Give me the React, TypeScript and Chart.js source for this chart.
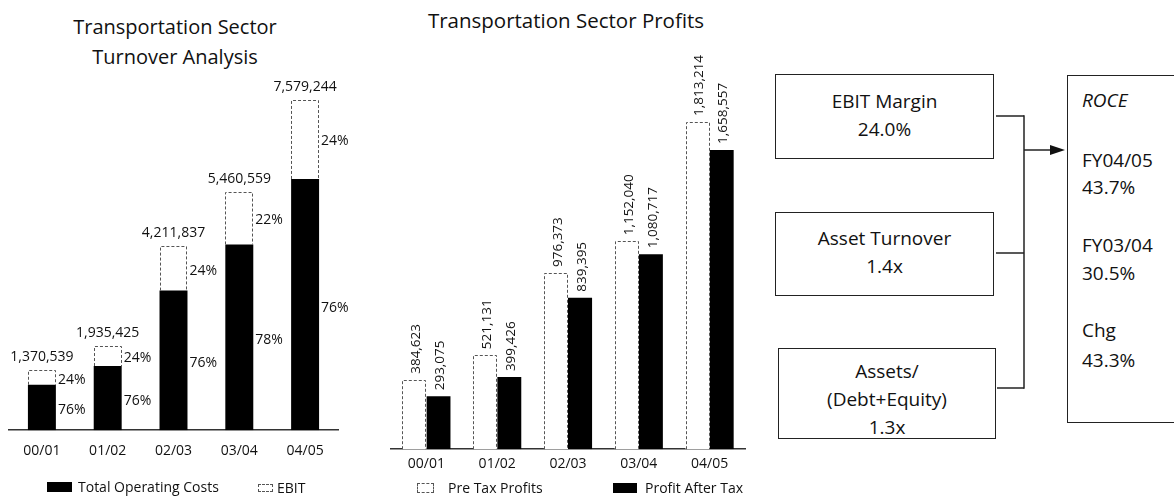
import React, { useEffect, useRef } from "react";
import { Chart, registerables } from "chart.js";

Chart.register(...registerables);

const FONT = "'Open Sans', 'Noto Sans', 'DejaVu Sans', sans-serif";

// ---- Data ----
const years = ["00/01", "01/02", "02/03", "03/04", "04/05"];
const turnoverTotals = [1370539, 1935425, 4211837, 5460559, 7579244];
const operatingCosts = [1041610, 1470923, 3200996, 4259236, 5760225];
const ebitValues = [328929, 464502, 1010841, 1201323, 1819019];
const costShareLabels = ["76%", "76%", "76%", "78%", "76%"];
const ebitShareLabels = ["24%", "24%", "24%", "22%", "24%"];
const preTaxProfits = [384623, 521131, 976373, 1152040, 1813214];
const profitAfterTax = [293075, 399426, 839395, 1080717, 1658557];
const driverNames = [["EBIT Margin"], ["Asset Turnover"], ["Assets/", "(Debt+Equity)"]];
const driverValues = ["24.0%", "1.4x", "1.3x"];
const roceTitle = "ROCE";
const roceLabels = ["FY04/05", "FY03/04", "Chg"];
const roceValues = ["43.7%", "30.5%", "43.3%"];

const fmt = (v: number) => v.toLocaleString("en-US");

function strokeDashedBars(chart: any, dsIndex: number) {
  const ctx = chart.ctx;
  const meta = chart.getDatasetMeta(dsIndex);
  ctx.save();
  ctx.strokeStyle = "#555";
  ctx.lineWidth = 1;
  ctx.setLineDash([3, 2]);
  meta.data.forEach((el: any) => {
    const p = el.getProps(["x", "y", "base", "width"], true);
    const l = Math.round(p.x - p.width / 2) + 0.5;
    const r = Math.round(p.x + p.width / 2) - 0.5;
    const t = Math.round(p.y) + 0.5;
    ctx.beginPath();
    ctx.moveTo(l, p.base);
    ctx.lineTo(l, t);
    ctx.lineTo(r, t);
    ctx.lineTo(r, p.base);
    ctx.stroke();
  });
  ctx.restore();
}

const leftLabels = {
  id: "leftLabels",
  afterDatasetsDraw(chart: any) {
    strokeDashedBars(chart, 1);
    const ctx = chart.ctx;
    const m0 = chart.getDatasetMeta(0);
    const m1 = chart.getDatasetMeta(1);
    ctx.save();
    ctx.font = `14px ${FONT}`;
    ctx.fillStyle = "#111";
    ctx.textBaseline = "middle";
    m1.data.forEach((el: any, i: number) => {
      const p = el.getProps(["x", "y", "base", "width"], true);
      ctx.textAlign = "center";
      ctx.fillText(fmt(turnoverTotals[i]), p.x, p.y - 13);
      ctx.textAlign = "left";
      ctx.fillText(ebitShareLabels[i], p.x + p.width / 2 + 2, (p.y + p.base) / 2 + 2);
      const q = m0.data[i].getProps(["x", "y", "base", "width"], true);
      ctx.fillText(costShareLabels[i], q.x + q.width / 2 + 2, (q.y + q.base) / 2 + 3);
    });
    ctx.restore();
  },
};

const rightLabels = {
  id: "rightLabels",
  afterDatasetsDraw(chart: any) {
    strokeDashedBars(chart, 0);
    const ctx = chart.ctx;
    ctx.save();
    ctx.font = `13.5px ${FONT}`;
    ctx.fillStyle = "#111";
    ctx.textBaseline = "middle";
    ctx.textAlign = "left";
    const series = [preTaxProfits, profitAfterTax];
    [0, 1].forEach((d) => {
      chart.getDatasetMeta(d).data.forEach((el: any, i: number) => {
        const p = el.getProps(["x", "y"], true);
        ctx.save();
        ctx.translate(p.x + 2, p.y - 6);
        ctx.rotate(-Math.PI / 2);
        ctx.fillText(fmt(series[d][i]), 0, 0);
        ctx.restore();
      });
    });
    ctx.restore();
  },
};

function useChart(ref: React.RefObject<HTMLCanvasElement>, make: () => any) {
  useEffect(() => {
    if (!ref.current) return;
    const chart = new Chart(ref.current, make());
    return () => chart.destroy();
  }, []);
}

const xAxis = (padding: number) => ({
  grid: { display: false, drawTicks: false },
  border: { display: true, color: "#333", width: 1.5 },
  ticks: { color: "#111", font: { family: FONT, size: 14 }, padding },
});

function LeftChart() {
  const ref = useRef<HTMLCanvasElement>(null);
  useChart(ref, () => ({
    type: "bar",
    data: {
      labels: years,
      datasets: [
        { label: "Total Operating Costs", data: operatingCosts, backgroundColor: "#000", stack: "s", barPercentage: 0.425, categoryPercentage: 1 },
        { label: "EBIT", data: ebitValues, backgroundColor: "#fff", stack: "s", barPercentage: 0.425, categoryPercentage: 1 },
      ],
    },
    options: {
      animation: false,
      responsive: false,
      maintainAspectRatio: false,
      layout: { padding: { top: 90, left: 9, right: 12, bottom: 7 } },
      plugins: { legend: { display: false }, title: { display: false }, tooltip: { enabled: false } },
      scales: {
        x: { stacked: true, ...xAxis(12) },
        y: { stacked: true, display: false, min: 0, max: 7800000 },
      },
    },
    plugins: [leftLabels],
  }));
  return <canvas ref={ref} width={350} height={478} style={{ position: "absolute", left: 0, top: 0, width: 350, height: 478 }} />;
}

function RightChart() {
  const ref = useRef<HTMLCanvasElement>(null);
  useChart(ref, () => ({
    type: "bar",
    data: {
      labels: years,
      datasets: [
        { label: "Pre Tax Profits", data: preTaxProfits, backgroundColor: "#fff", barPercentage: 1, categoryPercentage: 0.68 },
        { label: "Profit After Tax", data: profitAfterTax, backgroundColor: "#000", barPercentage: 1, categoryPercentage: 0.68 },
      ],
    },
    options: {
      animation: false,
      responsive: false,
      maintainAspectRatio: false,
      layout: { padding: { top: 100, left: 11, right: 15, bottom: 2 } },
      plugins: { legend: { display: false }, title: { display: false }, tooltip: { enabled: false } },
      scales: {
        x: xAxis(6),
        y: { display: false, min: 0, max: 1935000 },
      },
    },
    plugins: [rightLabels],
  }));
  return <canvas ref={ref} width={380} height={480} style={{ position: "absolute", left: 380, top: 0, width: 380, height: 480 }} />;
}

const txt: React.CSSProperties = { position: "absolute", fontFamily: FONT, color: "#111", whiteSpace: "nowrap" };

function LegendItem({ x, y, boxW, boxH, dashed, text, textX }: any) {
  return (
    <>
      <div
        style={{
          position: "absolute",
          left: x,
          top: y - boxH / 2,
          width: boxW,
          height: boxH,
          boxSizing: "border-box",
          background: dashed ? "#fff" : "#000",
          border: dashed ? "1px dashed #555" : "none",
        }}
      />
      <div style={{ ...txt, left: textX, top: y - 10, fontSize: 14, lineHeight: "20px" }}>{text}</div>
    </>
  );
}

const boxes = [
  { left: 775, top: 74, width: 219, height: 85, pt: 0, pb: 4 },
  { left: 775, top: 212, width: 219, height: 84, pt: 0, pb: 4 },
  { left: 778, top: 348, width: 218, height: 91, pt: 10, pb: 0 },
];

function Diagram() {
  const rocePos = [
    [160, 187],
    [245, 273],
    [330, 360],
  ];
  return (
    <>
      {boxes.map((b, i) => (
        <div
          key={i}
          style={{
            position: "absolute",
            left: b.left,
            top: b.top,
            width: b.width,
            height: b.height,
            boxSizing: "border-box",
            border: "1.5px solid #222",
            display: "flex",
            flexDirection: "column",
            alignItems: "center",
            justifyContent: "center",
            fontFamily: FONT,
            fontSize: 19,
            lineHeight: "28px",
            color: "#111",
            paddingTop: b.pt,
            paddingBottom: b.pb,
          }}
        >
          {driverNames[i].map((n, j) => (
            <div key={j}>{n}</div>
          ))}
          <div>{driverValues[i]}</div>
        </div>
      ))}
      <div style={{ position: "absolute", left: 1067, top: 75, width: 130, height: 348, boxSizing: "border-box", border: "1.5px solid #222" }} />
      <div style={{ ...txt, left: 1082, top: 86, fontSize: 19, lineHeight: "28px", fontStyle: "italic" }}>{roceTitle}</div>
      {roceLabels.map((l, i) => (
        <React.Fragment key={i}>
          <div style={{ ...txt, left: 1082, top: rocePos[i][0] - 14, fontSize: 19, lineHeight: "28px" }}>{l}</div>
          <div style={{ ...txt, left: 1082, top: rocePos[i][1] - 14, fontSize: 19, lineHeight: "28px" }}>{roceValues[i]}</div>
        </React.Fragment>
      ))}
      <svg width={1174} height={498} style={{ position: "absolute", left: 0, top: 0, pointerEvents: "none" }}>
        <g stroke="#222" strokeWidth={1.5} fill="none">
          <line x1={996} y1={116} x2={1024} y2={116} />
          <line x1={996} y1={253} x2={1024} y2={253} />
          <line x1={997} y1={388} x2={1024} y2={388} />
          <line x1={1024} y1={115.25} x2={1024} y2={388.75} />
          <line x1={1024} y1={150} x2={1052} y2={150} />
        </g>
        <polygon points="1050,145 1065,150 1050,155" fill="#111" />
      </svg>
    </>
  );
}

export default function App() {
  return (
    <div style={{ position: "absolute", left: 0, top: 0, width: 1174, height: 498, background: "#fff", overflow: "hidden" }}>
      <div style={{ ...txt, left: 0, width: 350, top: 12, textAlign: "center", fontSize: 20, lineHeight: "30px" }}>
        Transportation Sector
        <br />
        Turnover Analysis
      </div>
      <div style={{ ...txt, left: 416, width: 300, top: 5, textAlign: "center", fontSize: 20.5, lineHeight: "30px" }}>
        Transportation Sector Profits
      </div>
      <LeftChart />
      <RightChart />
      <LegendItem x={47} y={487} boxW={25} boxH={10} text="Total Operating Costs" textX={78} />
      <LegendItem x={258} y={488} boxW={15} boxH={8} dashed text="EBIT" textX={277} />
      <LegendItem x={417} y={488} boxW={17} boxH={10} dashed text="Pre Tax Profits" textX={448} />
      <LegendItem x={613} y={488} boxW={24} boxH={10} text="Profit After Tax" textX={645} />
      <Diagram />
    </div>
  );
}
